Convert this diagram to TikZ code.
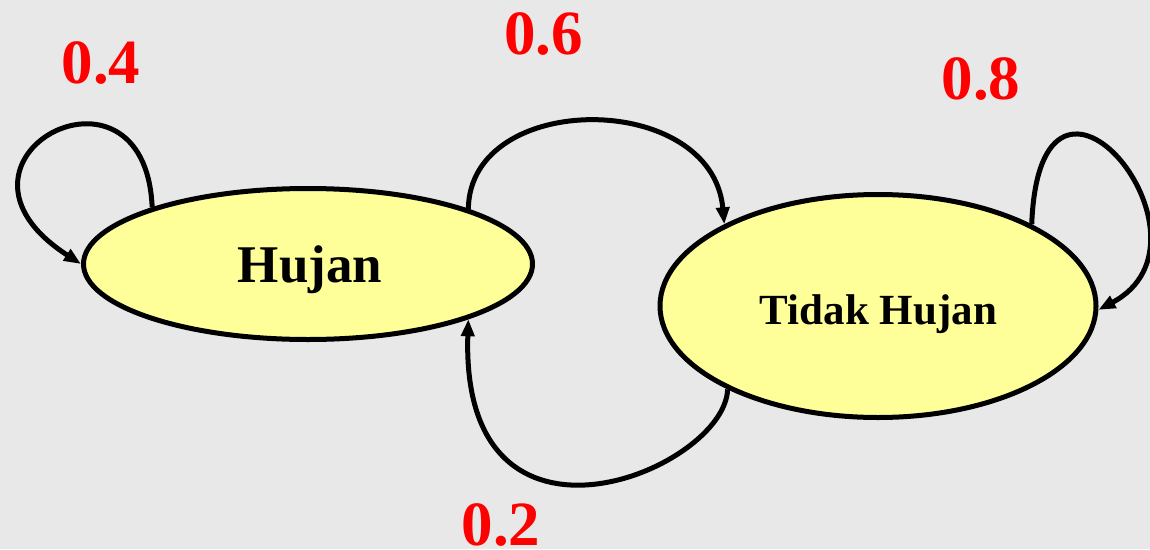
\documentclass[tikz,border=0pt]{standalone}
\usepackage{fontspec}
\setmainfont{Liberation Serif}
\usetikzlibrary{arrows.meta,shapes.geometric}
\definecolor{bgGray}{HTML}{E8E8E8}
\definecolor{stateFill}{HTML}{FFFF99}
\definecolor{probRed}{HTML}{FF0000}
\tikzset{
  state/.style={ellipse, draw=black, line width=5pt, fill=stateFill, inner sep=0pt},
  prob/.style={text=probRed, font=\bfseries\fontsize{63}{63}\selectfont, inner sep=0pt},
  trans/.style={line width=5pt, -{Triangle[length=17pt,width=13pt]}}
}
\begin{document}
\begin{tikzpicture}[x=1pt,y=-1pt]
  \fill[bgGray] (0,0) rectangle (1150,549);
  \useasboundingbox (0,0) rectangle (1150,549);

  % states
  \node[state, minimum width=449pt, minimum height=151pt] (h) at (308,264) {};
  \node[state, minimum width=436pt, minimum height=223pt] (t) at (878,306) {};
  \node[anchor=base, inner sep=0pt, font=\bfseries\fontsize{53}{53}\selectfont] (hl) at (310,282) {Hujan};
  \node[anchor=base, inner sep=0pt, font=\bfseries\fontsize{43}{43}\selectfont] (tl) at (878.5,324) {Tidak Hujan};

  % transitions
  \draw[trans] (h.160) .. controls (145,40) and (-80,160) .. (h.west);
  \draw[trans] (h.19) .. controls (470,90) and (712,90) .. (t.152);
  \draw[trans] (t.209) .. controls (725,470) and (460,580) .. (h.-19);
  \draw[trans] (t.28) .. controls (1040,8) and (1230,240) .. (t.-1);

  % probabilities
  \node[prob] (p1) at (101,62.5) {0.4};
  \node[prob] (p2) at (543.5,34) {0.6};
  \node[prob] (p3) at (981,79) {0.8};
  \node[prob] (p4) at (501,524.5) {0.2};
\end{tikzpicture}
\end{document}
